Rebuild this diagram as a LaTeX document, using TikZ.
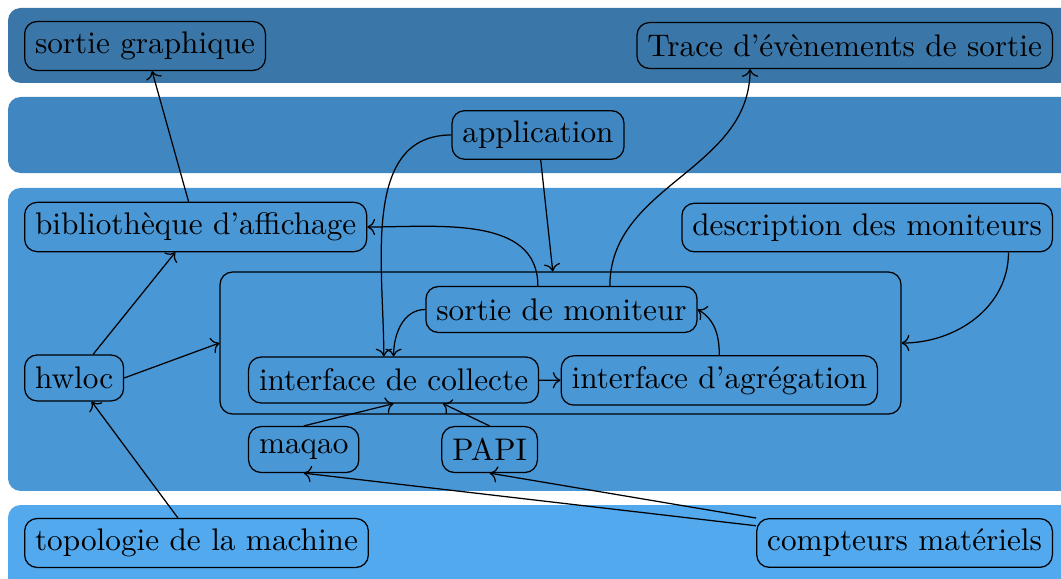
\documentclass[tikz,border=0pt]{standalone}
\usepackage{xcolor}
\usepackage{tikz}
\usetikzlibrary{arrows.meta,positioning,calc}

\definecolor{bandA}{RGB}{58,118,168}
\definecolor{bandB}{RGB}{64,135,193}
\definecolor{bandC}{RGB}{74,151,214}
\definecolor{bandD}{RGB}{82,169,238}

\begin{document}
\begin{tikzpicture}[mod/.style={draw,rounded corners,minimum height=14.7pt},
  band/.style={rounded corners}]
\useasboundingbox (0,0) rectangle (11.933,-6.512);
\clip (0,0) rectangle (11.933,-6.512);
% layers
\fill[band,bandA] (0.09,-0.09) rectangle (12.4,-0.933);
\fill[band,bandB] (0.09,-1.091) rectangle (12.4,-1.946);
\fill[band,bandC] (0.09,-2.114) rectangle (12.4,-5.522);
\fill[band,bandD] (0.09,-5.68) rectangle (12.4,-7.0);
% outputs
\node[mod,anchor=west] (graph) at (0.27,-0.517) {sortie graphique};
\node[mod,anchor=east] (trace) at (11.843,-0.512) {Trace d'évènements de sortie};
\node[mod] (app) at (6.051,-1.518) {application};
% tool
\node[mod,anchor=west] (lib) at (0.27,-2.553) {bibliothèque d'affichage};
\node[mod,anchor=east] (desc) at (11.843,-2.559) {description des moniteurs};
\node[draw,rounded corners,minimum width=7.659cm,minimum height=1.597cm] (mon) at (6.304,-3.858) {};
\node[mod] (out) at (6.315,-3.481) {sortie de moniteur};
\node[mod,anchor=west] (col) at (2.789,-4.274) {interface de collecte};
\node[mod,anchor=east] (agr) at (9.875,-4.279) {interface d'agrégation};
\node[mod,anchor=west] (hw) at (0.27,-4.251) {hwloc};
\node[mod,anchor=west] (maq) at (2.789,-5.056) {maqao};
\node[mod,anchor=east] (papi) at (6.051,-5.056) {PAPI};
% machine
\node[mod,anchor=west] (topo) at (0.27,-6.107) {topologie de la machine};
\node[mod,anchor=east] (cpt) at (11.843,-6.107) {compteurs matériels};
% links
\draw[->] (lib) -- (graph);
\draw[->] (out.26) to[out=90,in=-90] (trace.-166);
\draw[->] (out.135) to[out=90,in=0] (lib.east);
\draw[->] (app.west) to[out=180,in=90] ([xshift=-1.1mm]col.north);
\draw[->] (out.west) to[out=180,in=90] (col.north);
\draw[->] (app) -- (mon);
\draw[->] (agr.north) to[out=90,in=-30] (out.east);
\draw[->] (col) -- (agr);
\draw[->] (desc.-10) to[out=-90,in=0] (mon.east);
\draw[->] (hw) -- (lib);
\draw[->] (hw.east) -- (mon.west);
\draw[->] (topo) -- (hw);
\draw[->] (maq.north) -- (col.south);
\draw[->] (papi.north) -- (col);
\draw[->] (cpt) -- (maq.south);
\draw[->] (cpt) -- (papi.south);
\end{tikzpicture}
\end{document}
